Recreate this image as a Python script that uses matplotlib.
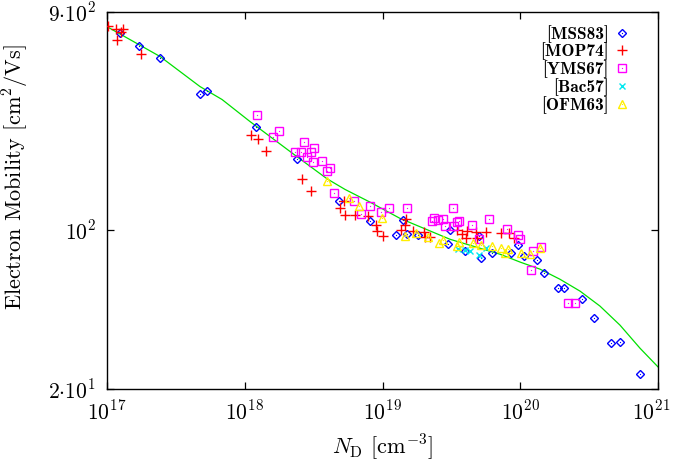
import matplotlib
matplotlib.use("Agg")
import matplotlib.pyplot as plt
from matplotlib.legend_handler import HandlerTuple
from matplotlib.transforms import ScaledTranslation

plt.rcParams['mathtext.fontset'] = 'cm'
plt.rcParams['font.family'] = 'serif'
plt.rcParams['font.serif'] = ['cmr10']
plt.rcParams['axes.unicode_minus'] = False

# ---------------- data ----------------
mss_N = [1.24e17, 1.71e17, 2.43e17, 4.73e17, 5.32e17, 1.21e18, 2.39e18, 4.83e18, 8.11e18,
         1.25e19, 1.41e19, 1.51e19, 1.81e19, 2.99e19, 3.09e19, 3.97e19, 5.02e19, 5.19e19,
         6.24e19, 8.57e19, 9.63e19, 1.06e20, 1.32e20, 1.49e20, 1.88e20, 2.08e20, 2.81e20,
         3.44e20, 4.56e20, 5.30e20, 7.41e20]
mss_mu = [730, 641, 568, 395, 407, 283, 205, 133, 108.8,
          94.5, 110, 95.4, 94.5, 86.3, 99.4, 80.4, 93.5, 74.9,
          78.8, 78.8, 85.4, 76.4, 73.4, 64.4, 55.4, 55.4, 49.6,
          40.9, 31.8, 32.1, 23.3]

mop_N = [1.02e17, 1.16e17, 1.31e17, 1.26e17, 1.18e17, 1.77e17, 1.11e18, 1.25e18, 1.43e18,
         2.61e18, 3.03e18, 5.26e18, 4.92e18, 5.35e18, 6.32e18, 7.85e18, 8.98e18, 9.12e18,
         1.01e19, 1.36e19, 1.48e19, 1.46e19, 1.67e19, 2.00e19, 2.04e19, 2.21e19, 3.48e19,
         3.78e19, 4.04e19, 4.11e19, 4.78e19, 4.86e19, 5.64e19, 7.25e19, 8.28e19, 9.01e19]
mop_mu = [784, 760, 760, 738, 681, 591, 261, 249, 222,
          166, 147, 133, 124, 115.6, 115.6, 114.4, 104.5, 98.4,
          93.5, 99.4, 111, 104.5, 98.4, 97.4, 92.6, 92.6, 99.4,
          95.4, 91.7, 98.4, 97.4, 91.7, 97.4, 96.4, 96.4, 91.7]

yms_N = [1.23e18, 1.77e18, 1.60e18, 2.69e18, 3.18e18, 2.32e18, 2.56e18, 3.03e18, 2.83e18,
         3.13e18, 3.64e18, 4.16e18, 3.96e18, 4.45e18, 6.21e18, 8.11e18, 1.11e19, 9.75e18,
         6.98e18, 1.51e19, 3.25e19, 2.37e19, 2.29e19, 2.75e19, 2.53e19, 2.84e19, 3.59e19,
         3.48e19, 3.31e19, 4.47e19, 5.93e19, 8.02e19, 9.63e19, 9.96e19, 5.02e19, 1.24e20,
         1.42e20, 1.20e20, 2.22e20, 2.50e20]
yms_mu = [317, 272, 254, 241, 229, 220, 218, 218, 209,
          197, 199, 186, 180, 144, 134, 126.5, 125, 120,
          117, 124, 125, 113, 108.8, 111, 110, 103.4, 108.8,
          107.7, 103.4, 104.5, 111, 100.4, 94.5, 90.7, 90.7, 80.4,
          83.7, 66.4, 47.6, 47.6]

bac_N = [3.53e19, 3.97e19, 4.32e19, 5.02e19, 5.64e19]
bac_mu = [82.1, 81.2, 80.4, 77.2, 82.9]

ofm_N = [3.96e18, 5.71e18, 6.76e18, 9.93e18, 1.46e19, 1.75e19, 2.14e19, 2.57e19, 2.75e19,
         3.59e19, 3.48e19, 4.54e19, 5.19e19, 6.24e19, 7.25e19, 8.15e19, 7.75e19, 1.01e20,
         1.18e20, 1.39e20]
ofm_mu = [164, 137, 126.5, 112, 93.5, 96.4, 92.6, 87.2, 89.8,
          88.1, 84.6, 87.2, 85.4, 84.6, 82.9, 82.1, 78.8, 78.8,
          78.0, 82.9]

fit_N = [1.00e17, 1.47e17, 2.43e17, 4.73e17, 6.84e17, 1.09e18, 2.39e18, 3.96e18, 5.35e18,
         8.11e18, 1.34e19, 3.09e19, 7.13e19, 1.00e20, 1.39e20, 1.94e20, 2.72e20, 3.79e20,
         5.30e20, 7.40e20, 1.00e21]
fit_mu = [776, 681, 574, 424, 372, 298, 209, 167, 150,
          132, 112, 90.7, 78.0, 72.0, 67.1, 60.6, 53.7, 46.2,
          38.1, 30.2, 25.0]

labels = ['[MSS83]', '[MOP74]', '[YMS67]', '[Bac57]', '[OFM63]']
xticks = [1e17, 1e18, 1e19, 1e20, 1e21]
xticklabels = [r'$10^{17}$', r'$10^{18}$', r'$10^{19}$', r'$10^{20}$', r'$10^{21}$']
yticks = [20, 100, 900]
yticklabels = [r'$2{\cdot}10^{1}$', r'$10^{2}$', r'$9{\cdot}10^{2}$']

# ---------------- figure ----------------
fig = plt.figure(figsize=(6.74, 4.61), dpi=100)
ax = fig.add_axes([107/674, 1-389/461, (658-107)/674, (389-12)/461])
ax.set_xscale('log')
ax.set_yscale('log')

ax.plot(fit_N, fit_mu, color='#00e000', lw=0.9, zorder=1)

handles = []
specs = [
    (mss_N, mss_mu, 'D', '#0000ff', 3.6, True),
    (mop_N, mop_mu, '+', '#ff0000', 7.5, False),
    (yms_N, yms_mu, 's', '#ff00ff', 6.0, True),
    (bac_N, bac_mu, 'x', '#00e8f0', 5.0, False),
    (ofm_N, ofm_mu, '^', '#ffee00', 5.5, True),
]
for xs, ys, m, c, ms, dot in specs:
    h, = ax.plot(xs, ys, ls='none', marker=m, ms=ms, mfc='none', mec=c, mew=1.0, zorder=3)
    if dot:
        d, = ax.plot(xs, ys, ls='none', marker='s', ms=0.8, mfc=c, mec=c, mew=0, zorder=3)
        handles.append((h, d))
    else:
        handles.append((h,))

ax.set_xlim(1e17, 1e21)
ax.set_ylim(20, 900)
ax.set_xticks(xticks)
ax.set_xticklabels(xticklabels)
ax.set_yticks(yticks)
ax.set_yticklabels(yticklabels)
ax.minorticks_off()
ax.tick_params(which='major', direction='in', length=5, width=0.9, top=True, right=True,
               labelsize=15.5, pad=8)
for s in ax.spines.values():
    s.set_linewidth(1.0)

# keep the last x tick label inside the canvas
last = ax.get_xticklabels()[-1]
last.set_transform(last.get_transform() + ScaledTranslation(-5/72, 0, fig.dpi_scale_trans))

ax.set_xlabel(r'$N_\mathrm{D}$ [cm$^{-3}$]', fontsize=16, labelpad=6)
ax.set_ylabel(r'Electron Mobility [cm$^2$/Vs]', fontsize=16)
ax.yaxis.set_label_coords(-0.138, 0.5623)

leg = ax.legend(handles, labels, handler_map={tuple: HandlerTuple(ndivide=1)},
                loc='upper right', bbox_to_anchor=(0.9448, 0.966), frameon=False,
                markerfirst=False, handlelength=0.6, handletextpad=0.5,
                labelspacing=0.0, borderpad=0, borderaxespad=0,
                prop={'family': 'cmb10', 'size': 12.5})

fig.savefig('out.png', dpi=100)
